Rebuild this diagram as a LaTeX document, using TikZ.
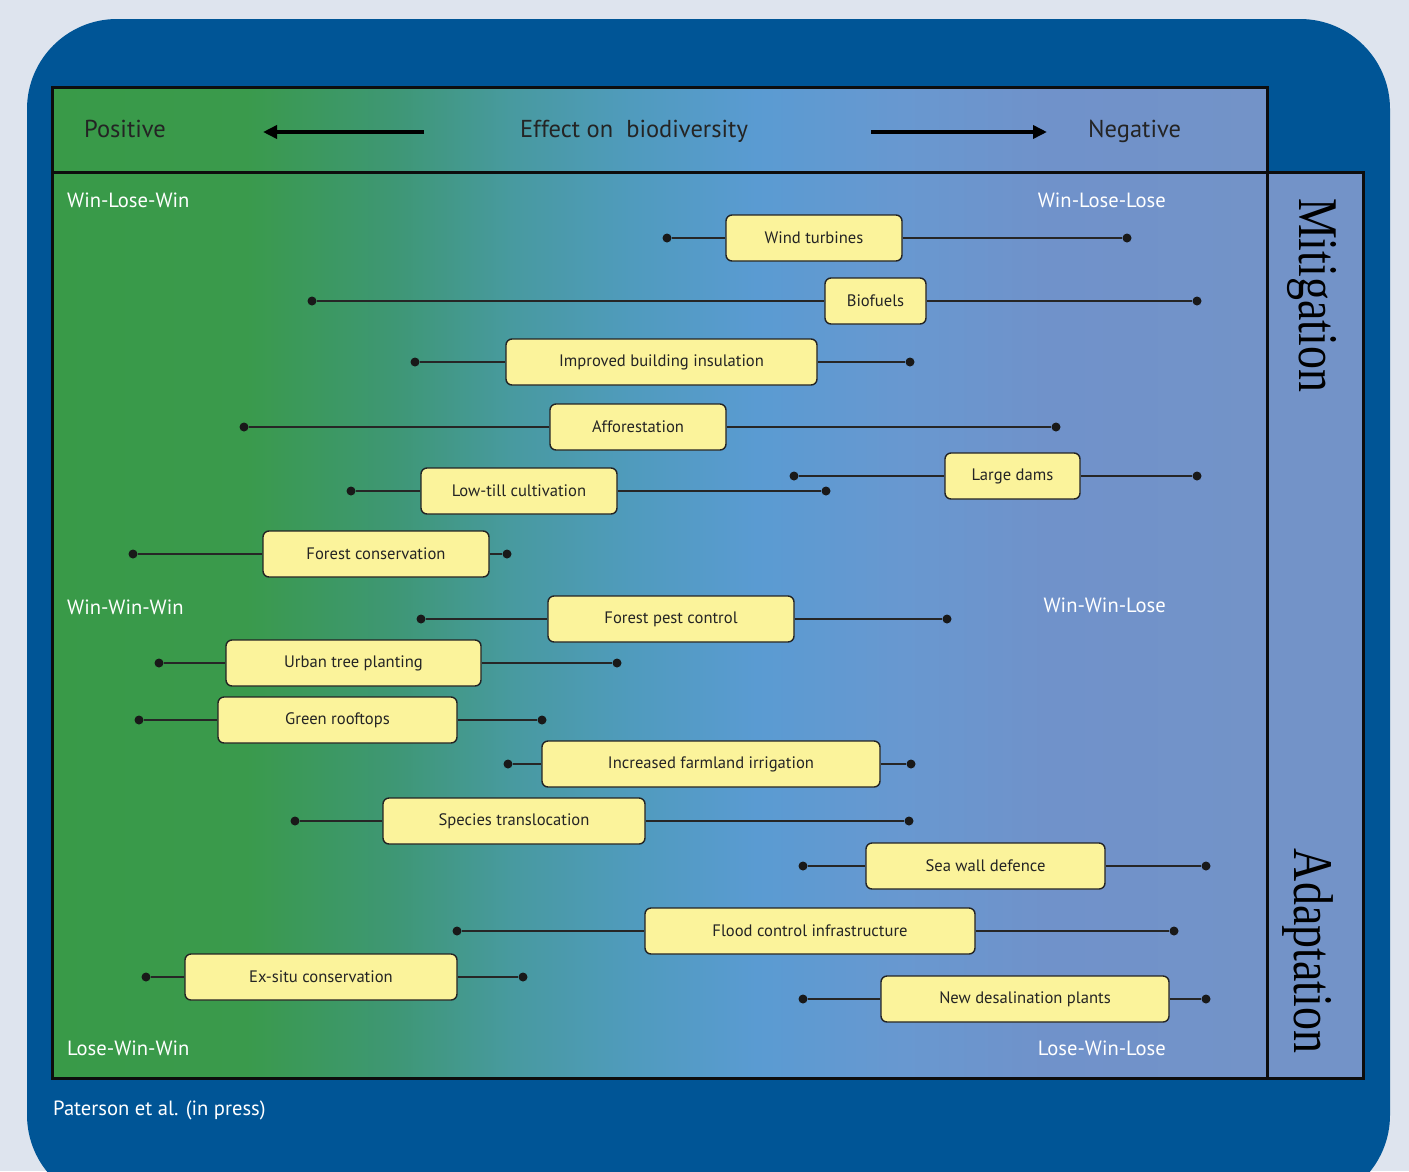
\documentclass[tikz,border=0pt]{standalone}
\usepackage{fontspec}
\setmainfont{PT Sans}
\newfontfamily\sidefont{Liberation Serif}
\usepackage{xcolor}
\usepackage{graphicx}
\usepackage{tikz}
\usetikzlibrary{shapes,arrows.meta,positioning,calc}

\definecolor{pagebg}{RGB}{222,228,238}
\definecolor{frameblue}{RGB}{0,85,150}
\definecolor{sidecol}{RGB}{115,147,200}
\definecolor{boxfill}{RGB}{251,243,155}
\definecolor{inkgray}{RGB}{36,36,36}
\definecolor{g0}{RGB}{57,154,72}
\definecolor{g1}{RGB}{58,154,76}
\definecolor{g2}{RGB}{62,151,116}
\definecolor{g3}{RGB}{72,154,160}
\definecolor{g4}{RGB}{80,155,190}
\definecolor{g5}{RGB}{90,155,210}
\definecolor{g6}{RGB}{104,152,208}
\definecolor{g7}{RGB}{112,146,202}
\definecolor{g8}{RGB}{115,147,200}

\pgfdeclarehorizontalshading{biodiv}{100bp}{color(0bp)=(g0); color(25bp)=(g0); color(33bp)=(g1); color(39bp)=(g2); color(44bp)=(g3); color(49bp)=(g4); color(54bp)=(g5); color(60bp)=(g6); color(66bp)=(g7); color(75bp)=(g8); color(100bp)=(g8)}

\tikzset{
  barbox/.style={draw=inkgray, line width=1.4pt, fill=boxfill, rounded corners=6pt,
    minimum height=46pt, inner sep=0pt, text=inkgray, font=\fontsize{16.6}{18}\selectfont},
  enddot/.style={circle, fill=black!90, inner sep=0pt, minimum size=9pt},
  bar/.style={draw=black!85, line width=1.6pt},
  corner/.style={white, inner sep=0pt, font=\fontsize{20.6}{22}\selectfont},
  headtext/.style={text=inkgray, inner sep=0pt, font=\fontsize{24.5}{26}\selectfont},
  sidetext/.style={inner sep=0pt, rotate=-90, font=\sidefont\fontsize{56}{60}\selectfont},
  boxline/.style={draw=black!95, line width=3pt}
}

\begin{document}
\begin{tikzpicture}[x=1pt,y=-1pt]
    \useasboundingbox (0,0) rectangle (1409,1171);
    \fill[pagebg] (0,0) rectangle (1409,1171);

    % Frame
    \begin{scope}
        \clip (0,0) rectangle (1409,1171);
        \fill[frameblue, rounded corners=90pt] (27,19) rectangle (1390,1205);
    \end{scope}

    % Header and main field
    \shade[shading=biodiv] (52,87) rectangle (1267,172);
    \shade[shading=biodiv] (52,172) rectangle (1267,1078);
    \fill[sidecol] (1267,172) rectangle (1363,1078);
    \draw[boxline] (52,172) -- (52,87) -- (1267,87) -- (1267,172);
    \draw[boxline] (52,172) rectangle (1267,1078);
    \draw[boxline] (1267,172) rectangle (1363,1078);

    \node[headtext, anchor=base west] (pos) at (84,137) {Positive};
    \node[headtext, anchor=base] (effect) at (634,137) {Effect on\ \ biodiversity};
    \node[headtext, anchor=base west] (neg) at (1088,137) {Negative};
    \coordinate (posA) at (424,132);
    \coordinate (posB) at (263,132);
    \coordinate (negA) at (871,132);
    \coordinate (negB) at (1047,132);
    \draw[line width=4pt, -{Triangle[length=14pt,width=13pt]}] (posA) -- (posB);
    \draw[line width=4pt, -{Triangle[length=14pt,width=13pt]}] (negA) -- (negB);

    % Side labels
    \node[sidetext] (mitig) at (1312,295) {\scalebox{0.82}[1]{Mitigation}};
    \node[sidetext] (adapt) at (1308,951) {\scalebox{0.82}[1]{Adaptation}};

    % Corner labels
    \node[corner, anchor=base west] (wlw) at (67,207) {Win-Lose-Win};
    \node[corner, anchor=base east] (wll) at (1166,207) {Win-Lose-Lose};
    \node[corner, anchor=base west] (www) at (67,614) {Win-Win-Win};
    \node[corner, anchor=base east] (wwl) at (1166,612) {Win-Win-Lose};
    \node[corner, anchor=base west] (lww) at (67,1055) {Lose-Win-Win};
    \node[corner, anchor=base east] (lwl) at (1166,1055) {Lose-Win-Lose};
    \node[corner, anchor=base west] (source) at (53,1115) {Paterson et al. (in press)};

    % Mitigation options
    \node[barbox, minimum width=176pt] (wind) at (814,238) {Wind turbines};
    \node[enddot] (windL) at (667,238) {};
    \node[enddot] (windR) at (1127,238) {};
    \draw[bar] (windL) -- (wind) -- (windR);

    \node[barbox, minimum width=101pt] (biof) at (875.5,301) {Biofuels};
    \node[enddot] (biofL) at (312,301) {};
    \node[enddot] (biofR) at (1197,301) {};
    \draw[bar] (biofL) -- (biof) -- (biofR);

    \node[barbox, minimum width=311pt] (insul) at (661.5,362) {Improved building insulation};
    \node[enddot] (insulL) at (415,362) {};
    \node[enddot] (insulR) at (910,362) {};
    \draw[bar] (insulL) -- (insul) -- (insulR);

    \node[barbox, minimum width=176pt] (affor) at (638,427) {Afforestation};
    \node[enddot] (afforL) at (244,427) {};
    \node[enddot] (afforR) at (1056,427) {};
    \draw[bar] (afforL) -- (affor) -- (afforR);

    \node[barbox, minimum width=196pt] (till) at (519,491) {Low-till cultivation};
    \node[enddot] (tillL) at (351,491) {};
    \node[enddot] (tillR) at (826,491) {};
    \draw[bar] (tillL) -- (till) -- (tillR);

    \node[barbox, minimum width=135pt] (dams) at (1012.5,476) {Large dams};
    \node[enddot] (damsL) at (794,476) {};
    \node[enddot] (damsR) at (1197,476) {};
    \draw[bar] (damsL) -- (dams) -- (damsR);

    \node[barbox, minimum width=226pt] (fcons) at (376,554) {Forest conservation};
    \node[enddot] (fconsL) at (133,554) {};
    \node[enddot] (fconsR) at (507,554) {};
    \draw[bar] (fconsL) -- (fcons) -- (fconsR);

    % Adaptation options
    \node[barbox, minimum width=246pt] (pest) at (671,619) {Forest pest control};
    \node[enddot] (pestL) at (421,619) {};
    \node[enddot] (pestR) at (947,619) {};
    \draw[bar] (pestL) -- (pest) -- (pestR);

    \node[barbox, minimum width=255pt] (urban) at (353.5,663) {Urban tree planting};
    \node[enddot] (urbanL) at (159,663) {};
    \node[enddot] (urbanR) at (617,663) {};
    \draw[bar] (urbanL) -- (urban) -- (urbanR);

    \node[barbox, minimum width=239pt] (roof) at (337.5,720) {Green rooftops};
    \node[enddot] (roofL) at (139,720) {};
    \node[enddot] (roofR) at (542,720) {};
    \draw[bar] (roofL) -- (roof) -- (roofR);

    \node[barbox, minimum width=338pt] (irrig) at (711,764) {Increased farmland irrigation};
    \node[enddot] (irrigL) at (508,764) {};
    \node[enddot] (irrigR) at (911,764) {};
    \draw[bar] (irrigL) -- (irrig) -- (irrigR);

    \node[barbox, minimum width=262pt] (transl) at (514,821) {Species translocation};
    \node[enddot] (translL) at (295,821) {};
    \node[enddot] (translR) at (909,821) {};
    \draw[bar] (translL) -- (transl) -- (translR);

    \node[barbox, minimum width=239pt] (seawall) at (985.5,866) {Sea wall defence};
    \node[enddot] (seawallL) at (803,866) {};
    \node[enddot] (seawallR) at (1206,866) {};
    \draw[bar] (seawallL) -- (seawall) -- (seawallR);

    \node[barbox, minimum width=330pt] (flood) at (810,931) {Flood control infrastructure};
    \node[enddot] (floodL) at (457,931) {};
    \node[enddot] (floodR) at (1174,931) {};
    \draw[bar] (floodL) -- (flood) -- (floodR);

    \node[barbox, minimum width=272pt] (exsitu) at (321,977) {Ex-situ conservation};
    \node[enddot] (exsituL) at (146,977) {};
    \node[enddot] (exsituR) at (523,977) {};
    \draw[bar] (exsituL) -- (exsitu) -- (exsituR);

    \node[barbox, minimum width=288pt] (desal) at (1025,999) {New desalination plants};
    \node[enddot] (desalL) at (803,999) {};
    \node[enddot] (desalR) at (1206,999) {};
    \draw[bar] (desalL) -- (desal) -- (desalR);
\end{tikzpicture}
\end{document}
